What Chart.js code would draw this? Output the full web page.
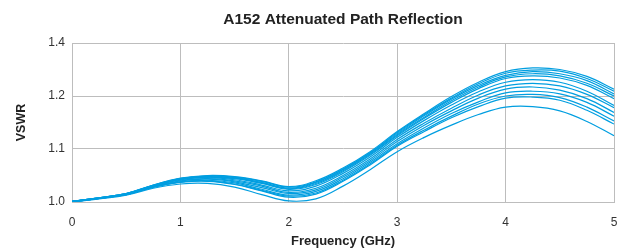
<!DOCTYPE html>
<html>
<head>
<meta charset="utf-8">
<script src="https://cdn.jsdelivr.net/npm/chart.js@4"></script>
<style>
  html, body { margin: 0; padding: 0; background: #fff; }
</style>
</head>
<body>
<canvas id="myChart" width="624" height="248"></canvas>
<script>
// frequency points (GHz)
const freq = [0, 0.25, 0.5, 0.75, 1, 1.25, 1.5, 1.75, 2, 2.25, 2.5, 2.75, 3, 3.25, 3.5, 3.75, 4, 4.25, 4.5, 4.75, 5];

// VSWR traces (axis position units)
const trace1  = [1.001, 1.008, 1.016, 1.032, 1.045, 1.050, 1.048, 1.040, 1.029, 1.040, 1.064, 1.095, 1.133, 1.167, 1.199, 1.226, 1.246, 1.253, 1.250, 1.237, 1.213];
const trace2  = [1.001, 1.008, 1.016, 1.032, 1.044, 1.049, 1.047, 1.039, 1.028, 1.038, 1.062, 1.093, 1.131, 1.165, 1.196, 1.223, 1.243, 1.249, 1.247, 1.233, 1.209];
const trace3  = [1.001, 1.008, 1.016, 1.031, 1.044, 1.049, 1.046, 1.037, 1.026, 1.037, 1.061, 1.092, 1.129, 1.163, 1.194, 1.220, 1.239, 1.246, 1.242, 1.229, 1.204];
const trace4  = [1.001, 1.008, 1.016, 1.031, 1.043, 1.048, 1.045, 1.036, 1.025, 1.035, 1.059, 1.090, 1.127, 1.160, 1.191, 1.217, 1.236, 1.242, 1.238, 1.224, 1.200];
const trace5  = [1.001, 1.008, 1.015, 1.031, 1.043, 1.047, 1.044, 1.035, 1.024, 1.033, 1.057, 1.088, 1.125, 1.158, 1.188, 1.214, 1.233, 1.238, 1.234, 1.220, 1.195];
const trace6  = [1.001, 1.007, 1.015, 1.030, 1.042, 1.046, 1.042, 1.032, 1.021, 1.030, 1.054, 1.085, 1.122, 1.154, 1.183, 1.208, 1.226, 1.231, 1.226, 1.209, 1.182];
const trace7  = [1.001, 1.007, 1.015, 1.030, 1.041, 1.044, 1.040, 1.030, 1.018, 1.026, 1.050, 1.081, 1.118, 1.149, 1.177, 1.202, 1.219, 1.224, 1.219, 1.203, 1.178];
const trace8  = [1.000, 1.007, 1.015, 1.029, 1.040, 1.043, 1.038, 1.027, 1.016, 1.023, 1.047, 1.078, 1.114, 1.145, 1.172, 1.196, 1.213, 1.217, 1.211, 1.195, 1.169];
const trace9  = [1.000, 1.007, 1.014, 1.028, 1.038, 1.041, 1.036, 1.024, 1.013, 1.020, 1.044, 1.075, 1.110, 1.140, 1.167, 1.189, 1.206, 1.209, 1.204, 1.188, 1.162];
const trace10 = [1.000, 1.007, 1.014, 1.028, 1.038, 1.040, 1.034, 1.022, 1.011, 1.017, 1.041, 1.072, 1.107, 1.136, 1.162, 1.185, 1.200, 1.203, 1.197, 1.179, 1.153];
const trace11 = [1.000, 1.007, 1.014, 1.028, 1.037, 1.039, 1.033, 1.021, 1.009, 1.015, 1.039, 1.070, 1.105, 1.133, 1.159, 1.180, 1.196, 1.198, 1.192, 1.173, 1.147];
const trace12 = [1.000, 1.006, 1.013, 1.026, 1.034, 1.035, 1.028, 1.014, 1.002, 1.006, 1.030, 1.061, 1.095, 1.122, 1.145, 1.165, 1.179, 1.180, 1.172, 1.152, 1.125];

// y tick labels as printed on the original axis
const yTicks = [1.0, 1.1, 1.2, 1.3];
const yTickLabels = ['1.0', '1.1', '1.2', '1.4'];

const traces = [trace1, trace2, trace3, trace4, trace5, trace6, trace7, trace8, trace9, trace10, trace11, trace12];
const lineColor = 'rgb(0, 158, 224)';
const gridColor = '#bdbdbd';

const ctx = document.getElementById('myChart').getContext('2d');
new Chart(ctx, {
    type: 'line',
    data: {
        datasets: traces.map(function(t, i) {
            return {
                label: 'Trace ' + (i + 1),
                data: freq.map(function(f, j) { return { x: f, y: t[j] }; }),
                borderColor: lineColor,
                borderWidth: 1.2,
                pointRadius: 0,
                fill: false,
                tension: 0.4
            };
        })
    },
    options: {
        responsive: false,
        animation: false,
        layout: { padding: { left: 0, right: 10, top: 0, bottom: 0 } },
        plugins: {
            legend: { display: false },
            tooltip: { enabled: false },
            title: {
                display: true,
                fullSize: false,
                text: 'A152 Attenuated Path Reflection',
                color: '#222',
                font: { family: 'Liberation Sans', size: 15.5, weight: 'bold', lineHeight: 1 },
                padding: { top: 12.25, bottom: 15.25 }
            }
        },
        scales: {
            x: {
                type: 'linear',
                min: 0,
                max: 5,
                afterFit: function(scale) {
                    scale.height = 46;
                    scale.paddingRight = 0;
                },
                ticks: {
                    stepSize: 1,
                    padding: 14.5,
                    color: '#333',
                    font: { family: 'Liberation Sans', size: 12, lineHeight: 1 }
                },
                grid: { color: gridColor, lineWidth: 1, drawTicks: false },
                border: { color: gridColor },
                title: {
                    display: true,
                    text: 'Frequency (GHz)',
                    color: '#222',
                    font: { family: 'Liberation Sans', size: 13, weight: 'bold', lineHeight: 1 },
                    padding: { top: 0, bottom: 0.5 }
                }
            },
            y: {
                min: 1.0,
                max: 1.3,
                afterFit: function(scale) {
                    scale.width = 72;
                },
                afterBuildTicks: function(scale) {
                    scale.ticks = yTicks.map(function(v) { return { value: v }; });
                },
                ticks: {
                    padding: 7,
                    color: '#333',
                    font: { family: 'Liberation Sans', size: 12, lineHeight: 1 },
                    callback: function(value) {
                        const k = yTicks.findIndex(function(v) { return Math.abs(v - value) < 1e-6; });
                        return k >= 0 ? yTickLabels[k] : '';
                    }
                },
                grid: { color: gridColor, lineWidth: 1, drawTicks: false },
                border: { color: gridColor },
                title: {
                    display: true,
                    text: 'VSWR',
                    color: '#222',
                    font: { family: 'Liberation Sans', size: 12.5, weight: 'bold', lineHeight: 1 },
                    padding: { top: 15.25, bottom: 0 }
                }
            }
        }
    }
});
</script>
</body>
</html>
